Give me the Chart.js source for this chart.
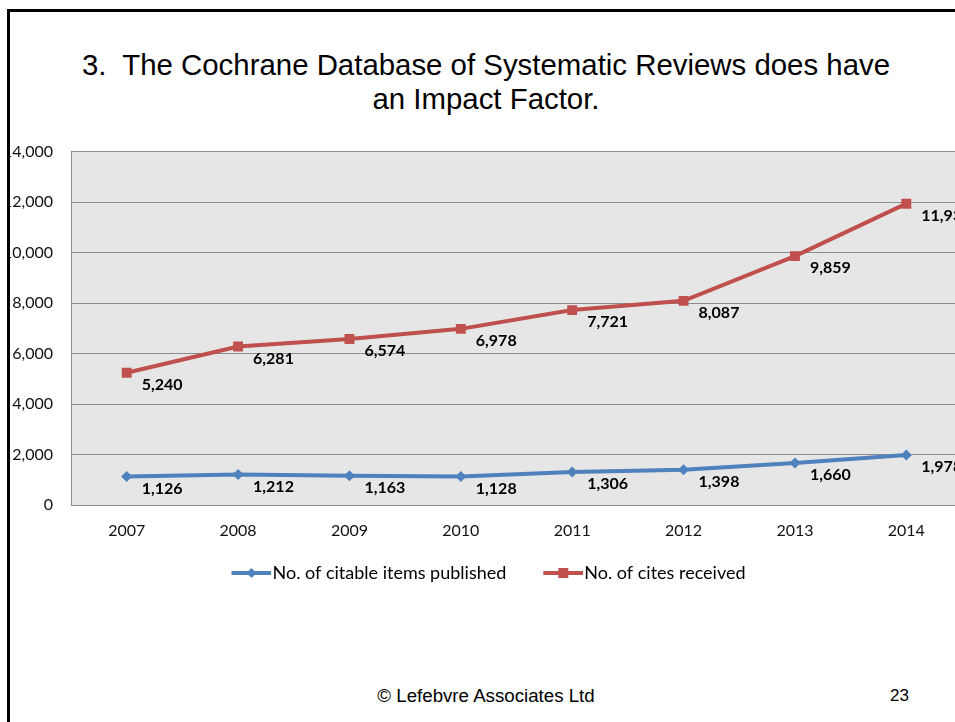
<!DOCTYPE html>
<html>
<head>
<meta charset="utf-8">
<script src="https://cdn.jsdelivr.net/npm/chart.js@4/dist/chart.umd.min.js"></script>
<style>
  html, body { margin: 0; padding: 0; background: #fff; }
  body { width: 955px; height: 722px; overflow: hidden; position: relative; font-family: "Liberation Sans", Arial, sans-serif; }
  .frame { position: absolute; left: 7px; top: 9px; width: 1000px; height: 800px; border-left: 3px solid #000; border-top: 3px solid #000; z-index: 5; pointer-events: none; }
  .title { position: absolute; left: 10px; width: 952px; top: 48px; text-align: center; font-size: 29.4px; line-height: 34px; color: #000; }
  .clip { position: absolute; left: 10px; top: 0; width: 945px; height: 722px; overflow: hidden; }
  .wrap { position: absolute; left: -10px; top: 124px; width: 975px; height: 468px; }
  .foot { position: absolute; top: 686px; font-size: 18.7px; line-height: 20px; color: #000; }
</style>
</head>
<body>
<div class="frame"></div>
<div class="title">3.&nbsp; The Cochrane Database of Systematic Reviews does have<br>an Impact Factor.</div>
<div class="clip"><div class="wrap"><canvas id="chart"></canvas></div></div>
<div class="foot" style="left:10px;width:952px;text-align:center;">© Lefebvre Associates Ltd</div>
<div class="foot" style="left:890px;font-size:17px;">23</div>
<script>
const years = ["2007", "2008", "2009", "2010", "2011", "2012", "2013", "2014"];
const itemsPublished = [1126, 1212, 1163, 1128, 1306, 1398, 1660, 1978];
const citesReceived = [5240, 6281, 6574, 6978, 7721, 8087, 9859, 11937];
const seriesNames = ["No. of citable items published", "No. of cites received"];

const blue = "#4F81BD";
const red = "#C0504D";
const fontFam = "Lato, 'Open Sans', sans-serif";

function legendIcon(col, shape) {
  const c = document.createElement("canvas");
  c.width = 75; c.height = 14;
  const g = c.getContext("2d");
  g.strokeStyle = col; g.fillStyle = col; g.lineWidth = 4;
  g.beginPath(); g.moveTo(35, 7); g.lineTo(75, 7); g.stroke();
  if (shape === "diamond") {
    g.beginPath(); g.moveTo(50, 7); g.lineTo(55, 2); g.lineTo(60, 7); g.lineTo(55, 12); g.closePath(); g.fill();
  } else {
    g.fillRect(50, 2, 10, 10);
  }
  return c;
}
const icons = [legendIcon(blue, "diamond"), legendIcon(red, "square")];

const plotBg = {
  id: "plotBg",
  afterLayout(chart) {
    // nudge legend a little left, like the original
    if (chart.legend) { chart.legend.left -= 6; chart.legend.right -= 6; }
  },
  beforeDraw(chart) {
    const a = chart.chartArea, ctx = chart.ctx;
    ctx.save();
    ctx.fillStyle = "#E6E6E6";
    ctx.fillRect(a.left, a.top, a.right - a.left, a.bottom - a.top);
    ctx.restore();
  }
};

const valueLabels = {
  id: "valueLabels",
  afterDatasetsDraw(chart) {
    const ctx = chart.ctx;
    ctx.save();
    ctx.font = "bold 16px " + fontFam;
    ctx.fillStyle = "#000";
    ctx.textAlign = "left";
    ctx.textBaseline = "middle";
    chart.data.datasets.forEach((ds, i) => {
      chart.getDatasetMeta(i).data.forEach((pt, j) => {
        ctx.fillText(ds.data[j].toLocaleString("en-US"), pt.x + 15, pt.y + 12);
      });
    });
    ctx.restore();
  }
};

new Chart(document.getElementById("chart"), {
  type: "line",
  data: {
    labels: years,
    datasets: [
      {
        label: seriesNames[0],
        data: itemsPublished,
        borderColor: blue,
        backgroundColor: blue,
        borderWidth: 4,
        pointStyle: "rectRot",
        pointRadius: 5.5,
        pointBorderWidth: 0,
        tension: 0
      },
      {
        label: seriesNames[1],
        data: citesReceived,
        borderColor: red,
        backgroundColor: red,
        borderWidth: 4,
        pointStyle: "rect",
        pointRadius: 7,
        pointBorderWidth: 0,
        tension: 0
      }
    ]
  },
  options: {
    responsive: true,
    maintainAspectRatio: false,
    animation: false,
    layout: { padding: { top: 11, right: 13, left: 0, bottom: 0 } },
    scales: {
      x: {
        offset: true,
        grid: { display: false, drawTicks: false },
        border: { display: true, color: "#8C8C8C" },
        ticks: { color: "#111", padding: 16, font: { family: fontFam, size: 16 }, maxRotation: 0 },
        afterFit(s) { s.height = 49; }
      },
      y: {
        min: 0,
        max: 14000,
        ticks: {
          stepSize: 2000,
          color: "#111",
          padding: 18,
          font: { family: fontFam, size: 16 },
          callback: v => v.toLocaleString("en-US")
        },
        grid: { color: "#8C8C8C", drawTicks: false },
        border: { display: true, color: "#8C8C8C" },
        afterFit(s) { s.width = 71; }
      }
    },
    plugins: {
      legend: {
        position: "bottom",
        labels: {
          color: "#111",
          font: { family: fontFam, size: 18 },
          usePointStyle: true,
          pointStyleWidth: 59,
          padding: 10,
          generateLabels(chart) {
            return chart.data.datasets.map((ds, i) => ({
              text: ds.label,
              pointStyle: icons[i],
              fillStyle: ds.borderColor,
              strokeStyle: ds.borderColor,
              lineWidth: 0,
              datasetIndex: i,
              hidden: false
            }));
          }
        }
      },
      tooltip: { enabled: false }
    }
  },
  plugins: [plotBg, valueLabels]
});
</script>
</body>
</html>
